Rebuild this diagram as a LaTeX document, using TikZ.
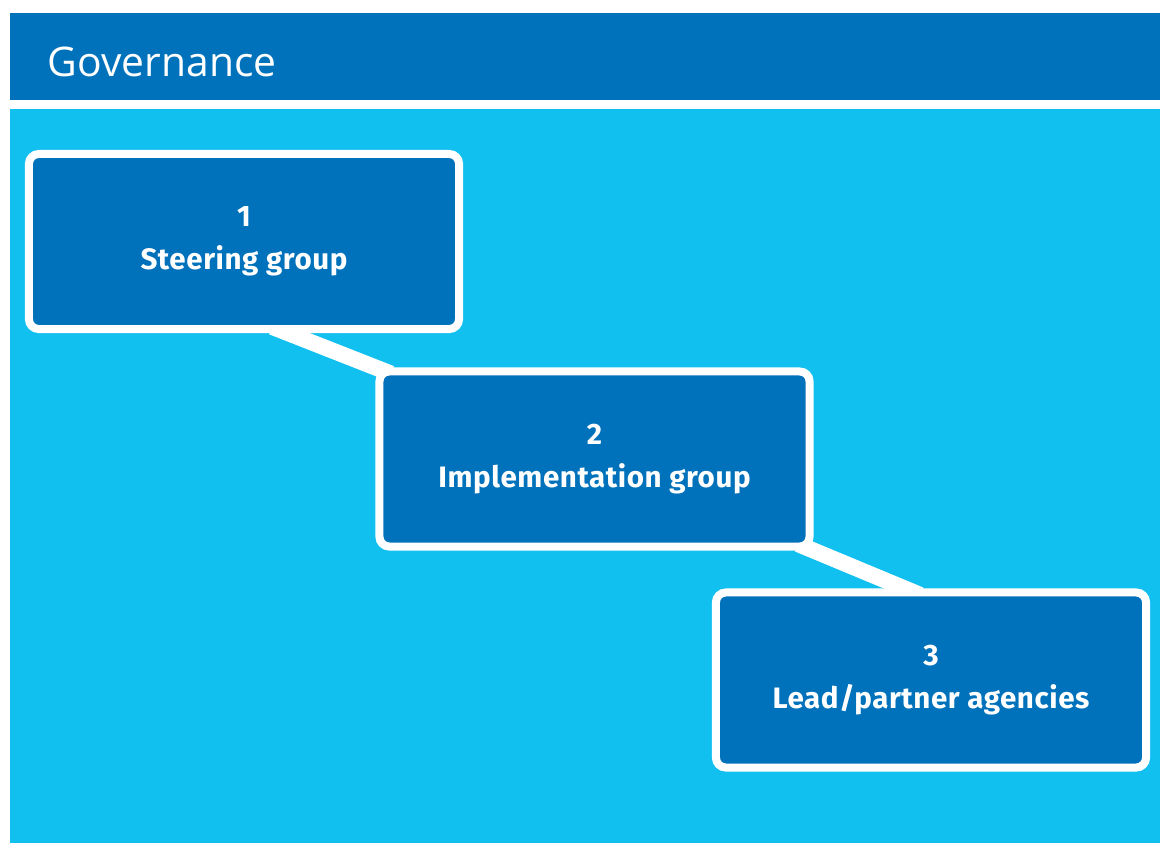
\documentclass[tikz,border=0pt]{standalone}
\usepackage{fontspec}
\usepackage{tikz}
\usetikzlibrary{calc,backgrounds}
\newfontfamily\titlefont{Open Sans}
\newfontfamily\boxfont[LetterSpace=2]{Fira Sans}
\definecolor{govdark}{HTML}{0071BB}
\definecolor{govlight}{HTML}{12C0F0}

\begin{document}
\begin{tikzpicture}[x=0.025cm,y=-0.025cm,
  groupbox/.style={draw=white,line width=5.7pt,fill=govdark,rounded corners=7pt,
    minimum width=10.75cm,minimum height=4.375cm,align=center,text=white,
    font=\boxfont\bfseries\fontsize{21}{30.6}\selectfont},
  link/.style={white,line width=11.4pt,shorten <=-12pt,shorten >=-12pt}]
\useasboundingbox (0,0) rectangle (1160,843);

\node[groupbox] (b1) at (244,241.5) {1\\Steering group};
\node[groupbox] (b2) at (594.5,459) {2\\Implementation group};
\node[groupbox] (b3) at (931,680) {3\\Lead/partner agencies};

\node[anchor=west,text=white,font=\titlefont\fontsize{29}{34}\selectfont] (title) at (43,62) {Governance};

\begin{scope}[on background layer]
\fill[govdark] (10,13) rectangle (1160,100);
\fill[govlight] (10,109) rectangle (1160,843);
\draw[link] ($(b1.south west)!0.6!(b1.south east)$) -- (b2.north west);
\draw[link] (b2.south east) -- ($(b3.north west)!0.44!(b3.north east)$);
\end{scope}
\end{tikzpicture}
\end{document}
